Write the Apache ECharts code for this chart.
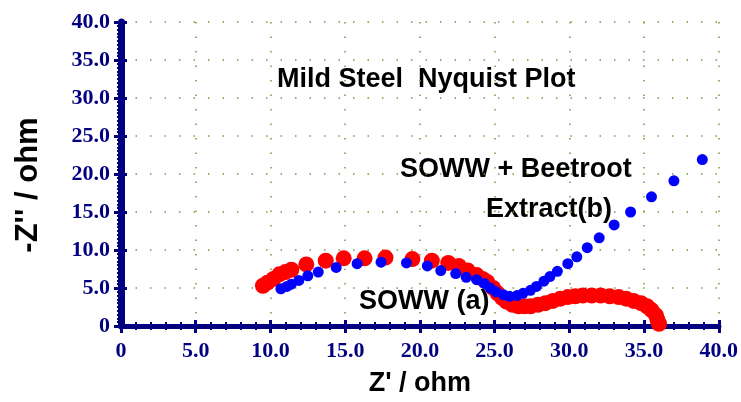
<!DOCTYPE html>
<html><head><meta charset="utf-8">
<script src="https://cdn.jsdelivr.net/npm/echarts@6/dist/echarts.min.js"></script>
<style>html,body{margin:0;padding:0;background:#fff}#c{width:741px;height:402px}</style>
</head><body><div id="c"></div>
<script>
const xTicks = [0, 5, 10, 15, 20, 25, 30, 35, 40];
const yTicks = [0, 5, 10, 15, 20, 25, 30, 35, 40];
const sowwX = [9.5, 9.8, 10.2, 10.6, 11.0, 11.4, 12.4, 13.7, 14.9, 16.3, 17.7, 19.5, 20.8, 21.9, 22.6, 23.2, 23.8, 24.2, 24.5, 24.9, 25.2, 25.5, 25.8, 26.2, 26.6, 27.0, 27.4, 27.9, 28.4, 28.9, 29.4, 29.9, 30.4, 30.9, 31.5, 32.1, 32.7, 33.3, 33.8, 34.3, 34.8, 35.2, 35.5, 35.8, 35.9, 36.0];
const sowwY = [5.3, 5.7, 6.2, 6.8, 7.1, 7.4, 8.1, 8.6, 8.9, 8.9, 9.0, 8.8, 8.6, 8.3, 7.9, 7.3, 6.7, 6.2, 5.8, 5.0, 4.3, 3.7, 3.2, 2.8, 2.6, 2.6, 2.6, 2.8, 3.0, 3.3, 3.6, 3.8, 3.9, 4.0, 4.0, 4.0, 3.9, 3.8, 3.6, 3.3, 3.0, 2.6, 2.1, 1.4, 0.8, 0.3];
const beetX = [10.7, 11.1, 11.4, 11.9, 12.5, 13.2, 14.4, 15.8, 17.4, 19.1, 20.5, 21.4, 22.4, 23.1, 23.8, 24.3, 24.7, 25.1, 25.6, 26.0, 26.5, 26.9, 27.4, 27.8, 28.3, 28.7, 29.2, 29.9, 30.5, 31.2, 32.0, 33.0, 34.1, 35.5, 37.0, 38.9];
const beetY = [4.9, 5.2, 5.5, 6.0, 6.6, 7.1, 7.7, 8.2, 8.4, 8.3, 7.9, 7.3, 6.9, 6.4, 6.1, 5.6, 5.0, 4.5, 4.1, 3.9, 4.0, 4.3, 4.7, 5.2, 5.9, 6.5, 7.2, 8.2, 9.1, 10.3, 11.6, 13.3, 15.0, 17.0, 19.1, 21.9];

const navy = '#000080';
const tickFmt = v => v === 0 ? '0' : v.toFixed(1);
const pair = (xs, ys) => xs.map((x, i) => [x, ys[i]]);
const gridLine = {show: true, lineStyle: {color: '#6f9e3c', width: 1.5, type: [1.5, 13]}};
const labelStyle = {color: navy, fontFamily: 'Liberation Serif', fontWeight: 'bold', fontSize: 22};
const txt = {fontFamily: 'Liberation Sans', fontWeight: 'bold', fontSize: 27, fill: '#000'};
const nameStyle = {fontFamily: 'Liberation Sans', fontWeight: 'bold', fontSize: 27, color: '#000'};
const minor = n => ({show: true, splitNumber: n, length: 4, lineStyle: {color: navy, width: 2}});

const chart = echarts.init(document.getElementById('c'));
chart.setOption({
  animation: false,
  backgroundColor: '#fff',
  grid: {left: 121, right: 17, top: 22, bottom: 75},
  xAxis: [{
    type: 'value', min: xTicks[0], max: xTicks[xTicks.length - 1], interval: 5, position: 'bottom',
    axisLine: {show: true, lineStyle: {color: navy, width: 5}},
    axisTick: {show: true, length: 7, lineStyle: {color: navy, width: 3}},
    minorTick: minor(5),
    axisLabel: Object.assign({margin: 14, formatter: tickFmt}, labelStyle),
    splitLine: gridLine,
    name: "Z' / ohm", nameLocation: 'middle', nameGap: 44,
    nameTextStyle: nameStyle
  }, {
    type: 'value', min: xTicks[0], max: xTicks[xTicks.length - 1], interval: 5, position: 'top',
    axisLine: {show: true, lineStyle: {color: navy, width: 5}},
    axisTick: {show: true, length: 6, lineStyle: {color: navy, width: 3}},
    minorTick: minor(5),
    axisLabel: {show: false}, splitLine: {show: false}
  }],
  yAxis: [{
    type: 'value', min: yTicks[0], max: yTicks[yTicks.length - 1], interval: 5, position: 'left',
    axisLine: {show: true, lineStyle: {color: navy, width: 5}},
    axisTick: {show: true, length: 7, lineStyle: {color: navy, width: 3}},
    minorTick: minor(10),
    axisLabel: Object.assign({margin: 11, formatter: tickFmt}, labelStyle),
    splitLine: gridLine
  }, {
    type: 'value', min: yTicks[0], max: yTicks[yTicks.length - 1], interval: 5, position: 'right',
    axisLine: {show: true, lineStyle: {color: navy, width: 7}},
    axisTick: {show: true, length: 6, lineStyle: {color: navy, width: 3}},
    minorTick: minor(10),
    axisLabel: {show: false}, splitLine: {show: false}
  }],
  series: [{
    name: 'SOWW (a)', type: 'scatter', symbolSize: 16, itemStyle: {color: '#ff0000', opacity: 1},
    data: pair(sowwX, sowwY), z: 2
  }, {
    name: 'SOWW + Beetroot Extract(b)', type: 'scatter', symbolSize: 11, itemStyle: {color: '#0000ff', opacity: 1},
    data: pair(beetX, beetY), z: 3
  }],
  graphic: [
    {type: 'text', left: 277, top: 66, style: Object.assign({text: 'Mild Steel  Nyquist Plot'}, txt)},
    {type: 'text', left: 400, top: 156, style: Object.assign({text: 'SOWW + Beetroot'}, txt)},
    {type: 'text', left: 486, top: 196, style: Object.assign({text: 'Extract(b)'}, txt)},
    {type: 'text', left: 359, top: 288, z: 1, style: Object.assign({text: 'SOWW (a)'}, txt)},
    {type: 'text', x: 28, y: 185, rotation: Math.PI / 2,
     style: Object.assign({text: "-Z'' / ohm", align: 'center', verticalAlign: 'middle'}, txt, {fontSize: 31})}
  ]
});
</script></body></html>
